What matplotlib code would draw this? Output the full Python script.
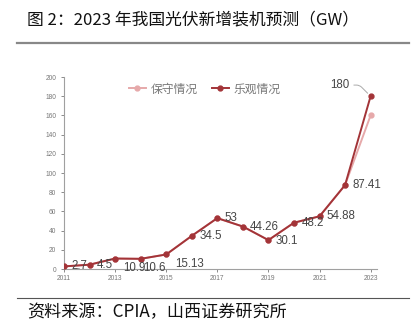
import matplotlib
matplotlib.use("Agg")
import matplotlib.pyplot as plt
from matplotlib.lines import Line2D

plt.rcParams['font.family'] = ['Noto Sans CJK SC', 'DejaVu Sans']

years = [2011, 2012, 2013, 2014, 2015, 2016, 2017, 2018, 2019, 2020, 2021, 2022, 2023]
optimistic = [2.7, 4.5, 10.9, 10.6, 15.13, 34.5, 53, 44.26, 30.1, 48.2, 54.88, 87.41, 180]
conservative = [2.7, 4.5, 10.9, 10.6, 15.13, 34.5, 53, 44.26, 30.1, 48.2, 54.88, 87.41, 160]
label_texts = ["2.7", "4.5", "10.9", "10.6", "15.13", "34.5", "53", "44.26", "30.1", "48.2", "54.88", "87.41", "180"]
xticks = [2011, 2013, 2015, 2017, 2019, 2021, 2023]
yticks = [0, 20, 40, 60, 80, 100, 120, 140, 160, 180, 200]
series_names = ["保守情况", "乐观情况"]

title = "图 2：2023 年我国光伏新增装机预测（GW）"
source = "资料来源：CPIA，山西证券研究所"

dark = "#A33438"
pink = "#E6A9AA"

fig = plt.figure(figsize=(4.15, 3.3), dpi=100)
fig.patch.set_facecolor("white")

ax = fig.add_axes([64/415, 1-269/330, (377-64)/415, (269-77)/330])
ax.plot(years, conservative, color=pink, lw=1.4, marker='o', ms=3.5, zorder=2)
ax.plot(years, optimistic, color=dark, lw=1.4, marker='o', ms=3.5, zorder=3)

# label offsets in points (dx, dy)
offsets = {2013: (5.5, -6.5), 2014: (1.8, -6.5), 2015: (6.5, -6.5), 2019: (5, -0.5)}
for x, y, t in zip(years[:-1], optimistic[:-1], label_texts[:-1]):
    dx, dy = offsets.get(x, (5.3, 0))
    ax.annotate(t, (x, y), xytext=(dx, dy), textcoords='offset points',
                ha='left', va='center', fontsize=8.3, color='#454545',
                family=['Liberation Sans'])
ax.annotate(label_texts[-1], (years[-1], optimistic[-1]), xytext=(-22, 8),
            textcoords='offset points', ha='center', va='center', fontsize=8.3,
            color='#454545', family=['Liberation Sans'],
            arrowprops=dict(arrowstyle='-', color='#AAAAAA', lw=0.7,
                            shrinkA=1, shrinkB=3,
                            connectionstyle="angle,angleA=0,angleB=135,rad=3"))

ax.set_xlim(2011, 2023.25)
ax.set_ylim(0, 200)
ax.set_xticks(xticks)
ax.set_yticks(yticks)
ax.tick_params(axis='both', labelsize=4.8, colors='#777777', length=2.5, width=0.6)
ax.tick_params(axis='x', pad=1.5)
ax.tick_params(axis='y', pad=3)
for lab in ax.get_xticklabels() + ax.get_yticklabels():
    lab.set_family(['Liberation Sans'])
for s in ['top', 'right']:
    ax.spines[s].set_visible(False)
for s in ['left', 'bottom']:
    ax.spines[s].set_color('#A0A0A0')
    ax.spines[s].set_linewidth(0.8)

handles = [Line2D([], [], color=pink, lw=1.4, marker='o', ms=3.5),
           Line2D([], [], color=dark, lw=1.4, marker='o', ms=3.5)]
ax.legend(handles, series_names, loc='center', bbox_to_anchor=(0.45, 0.9375),
          ncol=2, frameon=False, fontsize=8.5, labelcolor='#777777',
          handlelength=1.45, handletextpad=0.4, columnspacing=1.2)

fig.text(27/415, 1-20/330, title, fontsize=12.1, color='#111111', va='center', ha='left')
fig.add_artist(Line2D([17/415, 409/415], [1-43/330, 1-43/330], color='#888888', lw=1.6))
fig.add_artist(Line2D([17/415, 409/415], [1-297.5/330, 1-297.5/330], color='#555555', lw=0.8))
fig.text(27/415, 1-312/330, source, fontsize=12.3, color='#111111', va='center', ha='left')

fig.savefig("out.png", dpi=100, facecolor='white')
